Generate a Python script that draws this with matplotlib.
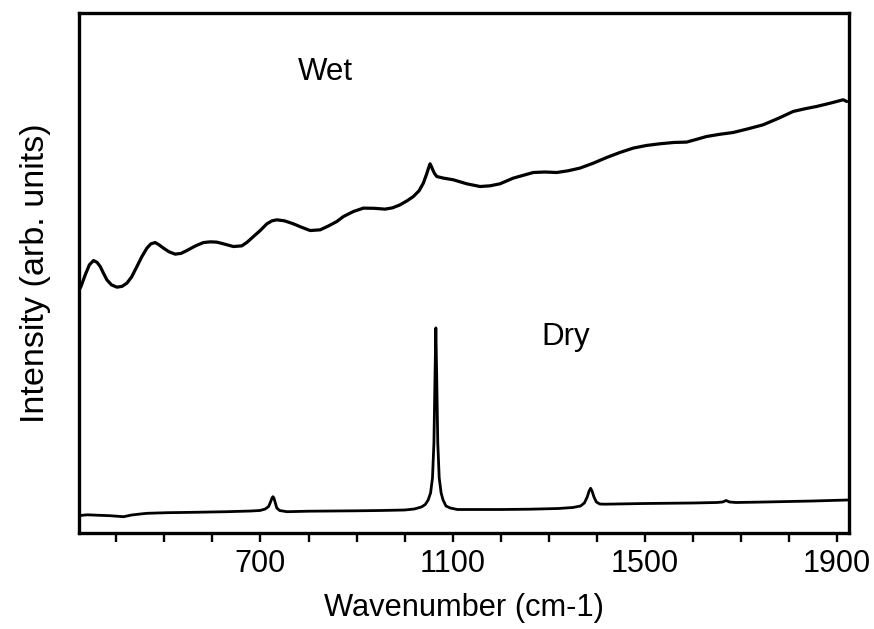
import matplotlib
matplotlib.use("Agg")
import matplotlib.pyplot as plt

plt.rcParams['font.family'] = ['Liberation Sans', 'DejaVu Sans']

# Wet spectrum (wavenumber, arbitrary intensity)
wet_x = [324, 326.5, 335.4, 344, 352.7, 360, 366.6, 373, 380.5, 390, 401.3, 412, 422.1,
         432, 442.9, 453, 463.7, 472, 481, 489, 498.3, 510, 522.6, 535, 546.9, 565,
         581.4, 596, 609.3, 627, 643.8, 661.3, 672, 685.4, 700, 713.3, 724, 734.1,
         750, 768.6, 786, 803.4, 824.2, 840, 858.9, 872.6, 893.4, 914.2, 937, 959.4,
         975, 990.6, 1005, 1018.2, 1030, 1039, 1046, 1050, 1053, 1056, 1058.6, 1062,
         1066.9, 1080.6, 1101.4, 1129.3, 1157, 1177.7, 1198.5, 1226.2, 1267.8, 1292,
         1316.5, 1340, 1364.9, 1392, 1420.5, 1448, 1475.8, 1503, 1531.3, 1560, 1586.9,
         1608, 1628.5, 1656, 1683.8, 1715, 1746.2, 1778, 1808.6, 1833, 1857.3, 1885,
         1912.6, 1920]
wet_y = [244, 246.3, 258, 268, 272.3, 270.5, 266.3, 260, 253, 248, 245.7, 246.5, 249.7,
         256, 266.3, 276, 284.7, 289, 290.3, 288, 284.7, 281, 278.7, 279.5, 282.3, 287,
         290.3, 291, 290.7, 288.5, 286.3, 287, 290.5, 296.3, 302.5, 309, 312, 313,
         312, 309, 305.5, 302.3, 303, 306.5, 311.3, 316.3, 321.3, 324.7, 324.5, 323.7,
         325, 328, 332, 336.3, 342, 349.7, 359, 365, 369, 366, 363, 359.5,
         356.3, 354.7, 353, 349, 346.3, 347, 349, 354.7, 360.3, 360.8,
         360.3, 362, 364.7, 369.5, 375.3, 380.3, 384.7, 387.3, 389, 390.3, 390.7,
         393.5, 396.3, 398.5, 400.3, 404, 408, 414.5, 421.3, 424, 426.3, 429.5,
         433, 431.3]

# Dry spectrum
dry_x = [324, 340, 360, 387, 415, 432, 450, 464, 505, 561, 630, 680, 699, 710, 717,
         721, 724, 726, 728, 731, 734, 740, 755, 800, 850, 900, 950, 1000, 1020, 1035,
         1043, 1049, 1054, 1058, 1061, 1063, 1065, 1067, 1069, 1072, 1076, 1080, 1086,
         1095, 1110, 1150, 1200, 1261, 1320, 1350, 1366, 1374, 1380, 1384, 1387, 1390,
         1394, 1399, 1406, 1416, 1440, 1500, 1600, 1650, 1662, 1669, 1676, 1690, 1750,
         1850, 1922]
dry_y = [17.5, 18.2, 17.8, 17.3, 16.3, 18, 19, 19.7, 20.3, 20.7, 21.3, 22, 22.5, 24, 26.5,
         31, 35, 36.3, 35, 30, 25, 22.5, 21.3, 21.8, 22, 22.2, 22.5, 23, 24, 26,
         28.5, 33, 40, 55, 90, 150, 205, 150, 90, 55, 40, 33, 27,
         25, 23.5, 23.5, 23.5, 23.8, 24.5, 25.5, 27, 30, 36, 42, 44.7, 42,
         36, 31, 29, 28.8, 29, 29.5, 30, 30.5, 31, 32.5, 31, 30.5, 31,
         32, 33]

tick_positions = list(range(400, 2000, 100))
tick_labels = ['700', '1100', '1500', '1900']
labelled_ticks = [700, 1100, 1500, 1900]

fig = plt.figure(figsize=(8.74, 6.29), dpi=100)
ax = fig.add_axes([0.0907, 0.1526, 0.971 - 0.0907, 0.9798 - 0.1526])

ax.plot(wet_x, wet_y, color='black', lw=2.3, solid_joinstyle='round', solid_capstyle='round')
ax.plot(dry_x, dry_y, color='black', lw=2.0, solid_joinstyle='round', solid_capstyle='round')

ax.set_xlim(323, 1924)
ax.set_ylim(0, 520)

ax.set_xticks(tick_positions)
ax.set_xticklabels([tick_labels[labelled_ticks.index(t)] if t in labelled_ticks else ''
                    for t in tick_positions])
ax.tick_params(axis='x', direction='out', length=6.7, width=1.7, labelsize=22, pad=5,
               top=False)
ax.set_yticks([])

for s in ax.spines.values():
    s.set_linewidth(2.4)

ax.set_xlabel('Wavenumber (cm-1)', fontsize=22.2, labelpad=10)
ax.set_ylabel('Intensity (arb. units)', fontsize=24.6, labelpad=20)

ax.text(835, 461, 'Wet', fontsize=22.5, ha='center', va='center')
ax.text(1335, 196, 'Dry', fontsize=22.5, ha='center', va='center')

fig.savefig('out.png', dpi=100)
